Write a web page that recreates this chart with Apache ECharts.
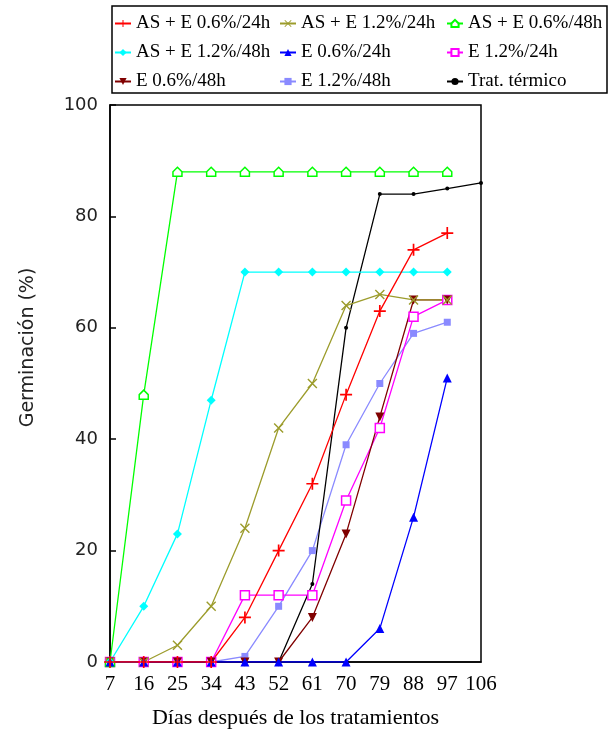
<!DOCTYPE html>
<html>
<head>
<meta charset="utf-8">
<script src="https://cdn.jsdelivr.net/npm/echarts@6/dist/echarts.min.js"></script>
<style>
  html, body { margin: 0; padding: 0; background: #fff; }
  #chart { width: 610px; height: 734px; }
</style>
</head>
<body>
<div id="chart"></div>
<script>
// Days after treatment (x categories)
const days = ['7', '16', '25', '34', '43', '52', '61', '70', '79', '88', '97', '106'];

// Germination (%) per treatment
const asE06_24 = [0, 0, 0, 0, 8, 20, 32, 48, 63, 74, 77];
const asE12_24 = [0, 0, 3, 10, 24, 42, 50, 64, 66, 65, 65];
const asE06_48 = [0, 48, 88, 88, 88, 88, 88, 88, 88, 88, 88];
const asE12_48 = [0, 10, 23, 47, 70, 70, 70, 70, 70, 70, 70];
const e06_24 = [0, 0, 0, 0, 0, 0, 0, 0, 6, 26, 51];
const e12_24 = [0, 0, 0, 0, 12, 12, 12, 29, 42, 62, 65];
const e06_48 = [0, 0, 0, 0, 0, 0, 8, 23, 44, 65, 65];
const e12_48 = [0, 0, 0, 0, 1, 10, 20, 39, 50, 59, 61];
const termico = [0, 0, 0, 0, 0, 0, 14, 60, 84, 84, 85, 86];

const yTicks = { min: 0, max: 100, interval: 20 };

const PLUS = 'path://M4.3,0H5.7V4.3H10V5.7H5.7V10H4.3V5.7H0V4.3H4.3Z';
const CROSS = 'path://M0,1L1,0L10,9L9,10Z M9,0L10,1L1,10L0,9Z';
const HOUSE = 'path://M5,0L10,5L10,10L0,10L0,5Z';

function line(name, data, color, symbol, size, extra) {
  return Object.assign({
    name: name,
    type: 'line',
    data: data,
    symbol: symbol,
    symbolSize: size,
    showAllSymbol: true,
    lineStyle: { color: color, width: 1.3 },
    itemStyle: { color: color },
    emphasis: { disabled: true },
    animation: false
  }, extra || {});
}

const series = [
  line('E 1.2%/48h', e12_48, '#8a8aff', 'rect', 7),
  line('E 1.2%/24h', e12_24, '#ff00ff', 'rect', 9,
       { itemStyle: { color: '#fff', borderColor: '#ff00ff', borderWidth: 1.5 } }),
  line('E 0.6%/48h', e06_48, '#800000', 'triangle', 9, { symbolRotate: 180 }),
  line('Trat. térmico', termico, '#000000', 'circle', 4),
  line('AS + E 1.2%/24h', asE12_24, '#9c9c2c', CROSS, 10),
  line('AS + E 0.6%/48h', asE06_48, '#00ff00', HOUSE, 9,
       { itemStyle: { color: '#fff', borderColor: '#00ff00', borderWidth: 1.5 } }),
  line('AS + E 1.2%/48h', asE12_48, '#00ffff', 'diamond', 9),
  line('E 0.6%/24h', e06_24, '#0000ff', 'triangle', 9),
  line('AS + E 0.6%/24h', asE06_24, '#ff0000', PLUS, 12)
];

function legendCol(left, names) {
  return {
    orient: 'vertical',
    left: left,
    top: 14,
    padding: 0,
    itemGap: 10,
    itemWidth: 16,
    itemHeight: 9,
    data: names,
    selectedMode: false,
    textStyle: { fontFamily: 'Liberation Serif', fontSize: 19, color: '#000', lineHeight: 18 }
  };
}

const chart = echarts.init(document.getElementById('chart'), null, { renderer: 'canvas' });
chart.setOption({
  backgroundColor: '#fff',
  animation: false,
  graphic: [{
    type: 'rect',
    shape: { x: 112, y: 6, width: 495, height: 87 },
    style: { fill: 'none', stroke: '#000', lineWidth: 1.5 },
    silent: true
  }],
  legend: [
    legendCol(114, ['AS + E 0.6%/24h', 'AS + E 1.2%/48h', 'E 0.6%/48h']),
    legendCol(279, ['AS + E 1.2%/24h', 'E 0.6%/24h', 'E 1.2%/48h']),
    legendCol(446, ['AS + E 0.6%/48h', 'E 1.2%/24h', 'Trat. térmico'])
  ],
  grid: {
    left: 110, right: 129, top: 105, bottom: 72,
    show: true, borderColor: '#000', borderWidth: 1.5, backgroundColor: '#fff'
  },
  xAxis: {
    type: 'category',
    data: days,
    boundaryGap: false,
    axisLine: { lineStyle: { color: '#000', width: 1.5 } },
    axisTick: { show: false },
    axisLabel: { interval: 0, fontFamily: 'Liberation Serif', fontSize: 21, color: '#000', margin: 12 },
    name: 'Días después de los tratamientos',
    nameLocation: 'middle',
    nameGap: 45,
    nameTextStyle: { fontFamily: 'Liberation Serif', fontSize: 22, color: '#000' }
  },
  yAxis: {
    type: 'value',
    min: yTicks.min, max: yTicks.max, interval: yTicks.interval,
    splitLine: { show: false },
    axisLine: { show: true, lineStyle: { color: '#000', width: 1.5 } },
    axisTick: { show: true, inside: true, length: 6, lineStyle: { color: '#000', width: 1.5 } },
    axisLabel: { fontFamily: 'DejaVu Sans', fontSize: 18, color: '#222', margin: 12 },
    name: 'Germinación (%)',
    nameLocation: 'middle',
    nameGap: 72,
    nameRotate: 90,
    nameTextStyle: { fontFamily: 'DejaVu Sans', fontSize: 19, color: '#222', padding: [0, 0, 0, 72] }
  },
  series: series
});
</script>
</body>
</html>
